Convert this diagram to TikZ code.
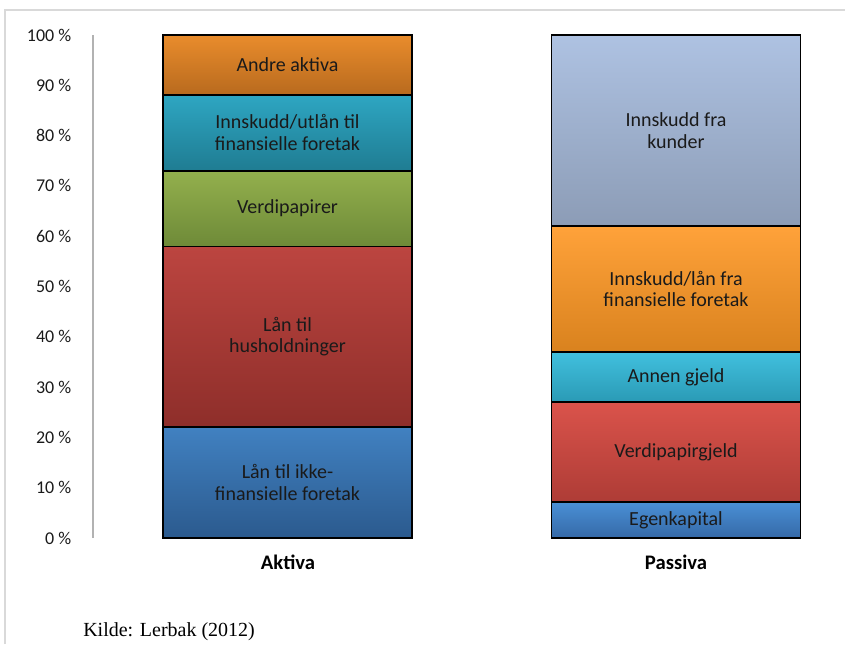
\documentclass[tikz,border=0pt]{standalone}
\usepackage{fontspec}
\setmainfont{Carlito}
\newfontfamily\kildefont{Liberation Serif}
\usepackage{tikz}
\usetikzlibrary{positioning}
\tikzset{>=latex}

% colours of the segments (top / bottom of the gradient)
\definecolor{andreA}{HTML}{E98C2C}   \definecolor{andreB}{HTML}{B86A1E}
\definecolor{utlanA}{HTML}{2EA6C2}   \definecolor{utlanB}{HTML}{1F7C92}
\definecolor{verdiA}{HTML}{93B04D}   \definecolor{verdiB}{HTML}{6E8A38}
\definecolor{husA}{HTML}{BC4540}     \definecolor{husB}{HTML}{8E2E2A}
\definecolor{ikkeA}{HTML}{4181C1}    \definecolor{ikkeB}{HTML}{2B5A8E}
\definecolor{kunderA}{HTML}{AEC2E2}  \definecolor{kunderB}{HTML}{8C9CB6}
\definecolor{lanA}{HTML}{FFA23A}     \definecolor{lanB}{HTML}{D9821E}
\definecolor{annenA}{HTML}{41C0DE}   \definecolor{annenB}{HTML}{2A9AB5}
\definecolor{gjeldA}{HTML}{DA534B}   \definecolor{gjeldB}{HTML}{AE3C36}
\definecolor{egenA}{HTML}{4A90D6}    \definecolor{egenB}{HTML}{3569A7}
\definecolor{txt}{HTML}{1A1A1A}

\tikzset{
  segment/.style={draw=black, line width=1.1pt, minimum width=186.75pt,
    inner sep=0pt, outer sep=0pt, align=center, text=txt,
    font=\fontsize{15}{16.3}\selectfont},
  ticklabel/.style={anchor=east, text=txt, font=\fontsize{13.5}{15}\selectfont},
  barlabel/.style={text=black, font=\fontsize{15.5}{17}\selectfont\bfseries}
}

\begin{document}
\begin{tikzpicture}[x=0.75pt, y=0.75pt]
\def\Z{106}   % y of 0 %
\def\S{5.03}  % per percent
\useasboundingbox (0,0) rectangle (845,644);

  % frame of the chart
  \draw[gray!30, line width=1.5pt] (5,0) -- (5,634) -- (845,634);

  % vertical axis
  \draw[gray!60, line width=1pt] (93,\Z) -- (93,{\Z+100*\S});
  \foreach \p in {0,10,...,100}
    \node[ticklabel] (tick\p) at (76,{\Z+\p*\S}) {\p{} \%};

  % Aktiva
  \foreach \nm/\lo/\hi/\txt in {
      ikke/0/22.1/{Lån til ikke-\\finansielle foretak},
      hus/22.1/58.0/{Lån til\\husholdninger},
      verdi/58.0/73.0/{Verdipapirer},
      utlan/73.0/88.1/{Innskudd/utlån til\\finansielle foretak},
      andre/88.1/100/{Andre aktiva}}
    \node[segment, minimum height={(\hi-\lo)*\S*0.75pt},
          top color=\nm A, bottom color=\nm B]
      (\nm) at (287.5,{\Z+(\lo+\hi)/2*\S}) {\txt};

  % Passiva
  \foreach \nm/\lo/\hi/\txt in {
      egen/0/7.2/{Egenkapital},
      gjeld/7.2/27.0/{Verdipapirgjeld},
      annen/27.0/37.0/{Annen gjeld},
      lan/37.0/62.0/{Innskudd/lån fra\\finansielle foretak},
      kunder/62.0/100/{Innskudd fra\\kunder}}
    \node[segment, minimum height={(\hi-\lo)*\S*0.75pt},
          top color=\nm A, bottom color=\nm B]
      (\nm) at (676,{\Z+(\lo+\hi)/2*\S}) {\txt};

  \node[barlabel] (aktiva) at (288,82) {Aktiva};
  \node[barlabel] (passiva) at (676,82) {Passiva};

  \node[anchor=base west, inner sep=0pt, font=\kildefont\fontsize{15}{17}\selectfont] (kilde) at (83,8) {Kilde: Lerbak (2012)};
\end{tikzpicture}
\end{document}
